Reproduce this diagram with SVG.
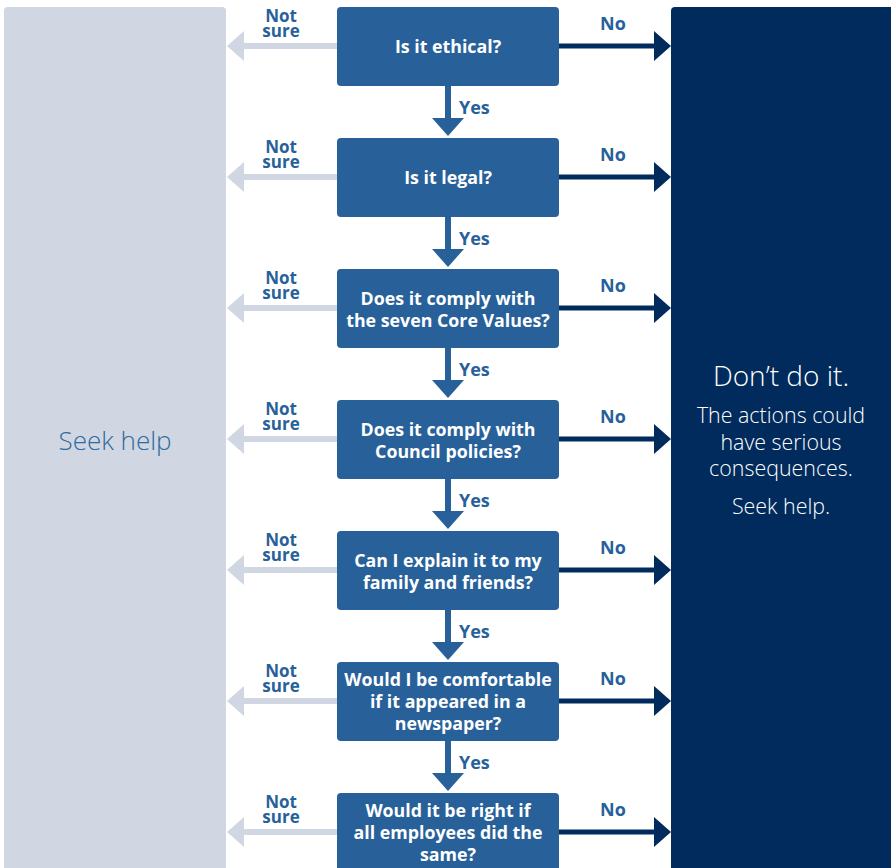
<svg xmlns="http://www.w3.org/2000/svg" width="891" height="868" viewBox="0 0 891 868">
<defs>
<style>
.q{fill:#28619a}
.qt{fill:#fff;font-family:"Open Sans","Noto Sans",sans-serif;font-weight:bold;font-size:17.8px;text-anchor:middle}
.lb{fill:#28619a;font-family:"Open Sans","Noto Sans",sans-serif;font-weight:bold;font-size:18px}
.ns{text-anchor:middle;font-size:17px}
.no{stroke:#002b5c;stroke-width:5;fill:none}
.nh{fill:#002b5c}
.us{stroke:#d1d7e2;stroke-width:6;fill:none}
.uh{fill:#d1d7e2}
.ys{stroke:#28619a;stroke-width:6;fill:none}
.yh{fill:#28619a}
.lt{font-family:"Open Sans","Noto Sans",sans-serif;font-weight:300;text-anchor:middle}
</style>
</defs>
<rect width="891" height="868" fill="#fff"/>
<g id="seek-help-panel">
<rect x="4" y="7" width="222" height="880" rx="4" fill="#d1d7e2"/>
<text class="lt" x="115" y="450" font-size="26" fill="#2f6aa0">Seek help</text>
</g>
<g id="dont-panel">
<rect x="671" y="7" width="240" height="880" rx="4" fill="#002b5c"/>
<text class="lt" x="781" y="386" font-size="28" fill="#fff">Don’t do it.</text>
<text class="lt" x="781" y="423" font-size="21.4" fill="#fff">The actions could</text>
<text class="lt" x="781" y="450" font-size="21.4" fill="#fff">have serious</text>
<text class="lt" x="781" y="476" font-size="21.4" fill="#fff">consequences.</text>
<text class="lt" x="781" y="514" font-size="21.4" fill="#fff">Seek help.</text>
</g>
<g id="connectors">
<g>
<path class="no" d="M559 46H656"/><path class="nh" d="M654 31L671 46L654 61Z"/>
<path class="us" d="M337 46H242"/><path class="uh" d="M244 31L227 46L244 61Z"/>
<path class="ys" d="M448 86V119"/><path class="yh" d="M432 118H464L448 136Z"/>
</g>
<g>
<path class="no" d="M559 177H656"/><path class="nh" d="M654 162L671 177L654 192Z"/>
<path class="us" d="M337 177H242"/><path class="uh" d="M244 162L227 177L244 192Z"/>
<path class="ys" d="M448 217V250"/><path class="yh" d="M432 249H464L448 267Z"/>
</g>
<g>
<path class="no" d="M559 308H656"/><path class="nh" d="M654 293L671 308L654 323Z"/>
<path class="us" d="M337 308H242"/><path class="uh" d="M244 293L227 308L244 323Z"/>
<path class="ys" d="M448 348V381"/><path class="yh" d="M432 380H464L448 398Z"/>
</g>
<g>
<path class="no" d="M559 439H656"/><path class="nh" d="M654 424L671 439L654 454Z"/>
<path class="us" d="M337 439H242"/><path class="uh" d="M244 424L227 439L244 454Z"/>
<path class="ys" d="M448 479V512"/><path class="yh" d="M432 511H464L448 529Z"/>
</g>
<g>
<path class="no" d="M559 570H656"/><path class="nh" d="M654 555L671 570L654 585Z"/>
<path class="us" d="M337 570H242"/><path class="uh" d="M244 555L227 570L244 585Z"/>
<path class="ys" d="M448 610V643"/><path class="yh" d="M432 642H464L448 660Z"/>
</g>
<g>
<path class="no" d="M559 701H656"/><path class="nh" d="M654 686L671 701L654 716Z"/>
<path class="us" d="M337 701H242"/><path class="uh" d="M244 686L227 701L244 716Z"/>
<path class="ys" d="M448 741V774"/><path class="yh" d="M432 773H464L448 791Z"/>
</g>
<g>
<path class="no" d="M559 832H656"/><path class="nh" d="M654 817L671 832L654 847Z"/>
<path class="us" d="M337 832H242"/><path class="uh" d="M244 817L227 832L244 847Z"/>
</g>
<g class="lb">
<text x="600" y="30">No</text><text x="600" y="161">No</text><text x="600" y="292">No</text><text x="600" y="423">No</text><text x="600" y="554">No</text><text x="600" y="685">No</text><text x="600" y="816">No</text>
<text x="459" y="114">Yes</text><text x="459" y="245">Yes</text><text x="459" y="376">Yes</text><text x="459" y="507">Yes</text><text x="459" y="638">Yes</text><text x="459" y="769">Yes</text>
<g class="ns">
<text x="281" y="21.5">Not<tspan x="281" dy="15.5">sure</tspan></text>
<text x="281" y="152.5">Not<tspan x="281" dy="15.5">sure</tspan></text>
<text x="281" y="283.5">Not<tspan x="281" dy="15.5">sure</tspan></text>
<text x="281" y="414.5">Not<tspan x="281" dy="15.5">sure</tspan></text>
<text x="281" y="545.5">Not<tspan x="281" dy="15.5">sure</tspan></text>
<text x="281" y="676.5">Not<tspan x="281" dy="15.5">sure</tspan></text>
<text x="281" y="807.5">Not<tspan x="281" dy="15.5">sure</tspan></text>
</g>
</g>
</g>
<g id="q1"><rect class="q" x="337" y="7" width="222" height="79" rx="4"/><text class="qt" x="448" y="53">Is it ethical?</text></g>
<g id="q2"><rect class="q" x="337" y="138" width="222" height="79" rx="4"/><text class="qt" x="448" y="184">Is it legal?</text></g>
<g id="q3"><rect class="q" x="337" y="269" width="222" height="79" rx="4"/><text class="qt" x="448" y="305">Does it comply with</text><text class="qt" x="448" y="327">the seven Core Values?</text></g>
<g id="q4"><rect class="q" x="337" y="400" width="222" height="79" rx="4"/><text class="qt" x="448" y="436">Does it comply with</text><text class="qt" x="448" y="458">Council policies?</text></g>
<g id="q5"><rect class="q" x="337" y="531" width="222" height="79" rx="4"/><text class="qt" x="448" y="567">Can I explain it to my</text><text class="qt" x="448" y="589">family and friends?</text></g>
<g id="q6"><rect class="q" x="337" y="662" width="222" height="79" rx="4"/><text class="qt" x="448" y="686">Would I be comfortable</text><text class="qt" x="448" y="708">if it appeared in a</text><text class="qt" x="448" y="730">newspaper?</text></g>
<g id="q7"><rect class="q" x="337" y="793" width="222" height="100" rx="4"/><text class="qt" x="448" y="817">Would it be right if</text><text class="qt" x="448" y="839">all employees did the</text><text class="qt" x="448" y="861">same?</text></g>
</svg>
